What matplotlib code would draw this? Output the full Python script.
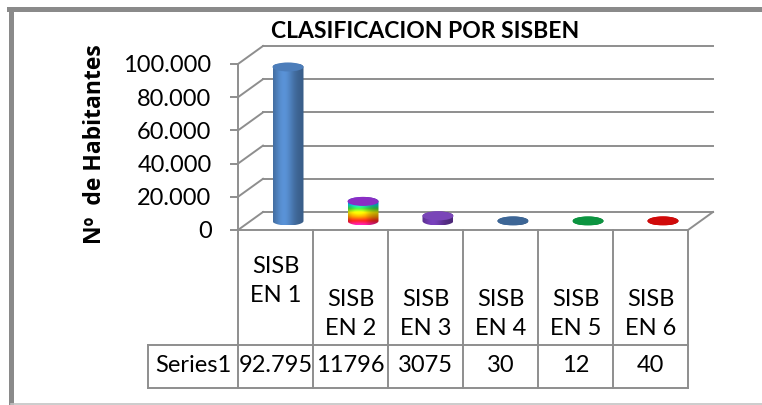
import numpy as np
import matplotlib
matplotlib.use("Agg")
import matplotlib.pyplot as plt
from matplotlib.patches import Ellipse, Polygon
from matplotlib.lines import Line2D
from matplotlib.colors import LinearSegmentedColormap, to_rgb
from matplotlib.ticker import FuncFormatter

plt.rcParams['font.family'] = ['Lato', 'DejaVu Sans']

# data
categories = ["SISB\nEN 1", "SISB\nEN 2", "SISB\nEN 3", "SISB\nEN 4", "SISB\nEN 5", "SISB\nEN 6"]
values = [92795, 11796, 3075, 30, 12, 40]
value_labels = ["92.795", "11796", "3075", "30", "12", "40"]
series_name = "Series1"
yticks = [0, 20000, 40000, 60000, 80000, 100000]

title = "CLASIFICACION POR SISBEN"
ylabel = "Nº  de Habitantes"

# colours (body, top) per bar; bar 2 uses a rainbow fill
body_cols = ['#4F81BD', None, '#6A38A6', '#3D6696', '#0C9440', '#D00A0A']
top_cols = ['#4C7DBA', '#8A2EC4', '#7A46B8', '#3D6696', '#0C9440', '#D00A0A']
rainbow = LinearSegmentedColormap.from_list(
    'rb', ['#FF20B0', '#FF2020', '#FF9A00', '#FFF000', '#40E040',
           '#00D0F0', '#2040FF', '#8020C0'])

grid_c = '#8e8e8e'
fs = 17
W, H = 762, 405
fig = plt.figure(figsize=(W / 100, H / 100), dpi=100)
ax = fig.add_axes([238 / W, 1 - 230 / H, 450 / W, 166 / H])
ax.set_xlim(-0.5, 5.5)
ax.set_ylim(0, 100000)

# 3d depth offset (pixels -> data units)
px_x = 450 / 6
px_y = 166 / 100000
dx = 25 / px_x
dy = 18 / px_y

for s in ['top', 'right', 'bottom']:
    ax.spines[s].set_visible(False)
ax.spines['left'].set_color(grid_c)
ax.spines['left'].set_linewidth(1.4)
ax.set_xticks([])
ax.set_yticks(yticks)
ax.yaxis.set_major_formatter(FuncFormatter(lambda v, p: f"{int(v):,}".replace(",", ".")))
ax.tick_params(axis='y', length=6, width=1.4, color=grid_c, labelsize=fs, pad=13)
ax.patch.set_visible(False)

# back wall + left wall
x0, x1 = -0.5, 5.5
for v in yticks:
    ax.plot([x0 + dx, x1 + dx], [v + dy, v + dy], color=grid_c, lw=1.4, clip_on=False, zorder=1)
    ax.plot([x0, x0 + dx], [v, v + dy], color=grid_c, lw=1.4, clip_on=False, zorder=1)
# floor right edge
ax.plot([x1, x1 + dx], [0, dy], color=grid_c, lw=1.4, clip_on=False, zorder=1)


def cylinder(i, val):
    xc = i + dx / 2
    base = dy / 2
    top = base + val
    w = 31 / px_x
    eh = 9 / px_y
    a = np.linspace(np.pi, 2 * np.pi, 60)
    b = np.linspace(0, np.pi, 60)
    xs = np.concatenate([xc + w / 2 * np.cos(a), xc + w / 2 * np.cos(b)])
    ys = np.concatenate([base + eh / 2 * np.sin(a), top + eh / 2 * np.sin(b)])
    sil = Polygon(np.column_stack([xs, ys]), closed=True, facecolor='none',
                  edgecolor='none', clip_on=False)
    ax.add_patch(sil)
    nx, ny = 60, 80
    t = np.linspace(0, 1, nx)
    shade = 0.72 + 0.42 * np.exp(-((t - 0.35) / 0.33) ** 2)
    if body_cols[i] is None:
        rows = rainbow(np.linspace(0, 1, ny))[:, :3]
    else:
        rows = np.tile(np.array(to_rgb(body_cols[i])), (ny, 1))
    img = np.clip(rows[:, None, :] * shade[None, :, None], 0, 1)
    im = ax.imshow(img, extent=[xc - w / 2, xc + w / 2, base - eh / 2, top + eh / 2],
                   origin='lower', aspect='auto', zorder=3, interpolation='bilinear')
    im.set_clip_path(sil)
    im.set_clip_on(True)
    ax.add_patch(Ellipse((xc, top), w, eh, facecolor=top_cols[i], edgecolor='none',
                         zorder=4, clip_on=False))


for i, v in enumerate(values):
    cylinder(i, v)
ax.set_xlim(-0.5, 5.5)
ax.set_ylim(0, 100000)

# data table under the chart
tr = ax.get_xaxis_transform()
row1 = -115 / 166
row2 = -158 / 166
left_cell = -0.5 - 90 / px_x
ax.plot([x0, x1], [0, 0], color=grid_c, lw=1.4, transform=tr, clip_on=False)
for k in range(7):
    ax.plot([x0 + k, x0 + k], [0, row2], color=grid_c, lw=1.4, transform=tr, clip_on=False)
for r in [row1, row2]:
    ax.plot([left_cell, x1], [r, r], color=grid_c, lw=1.4, transform=tr, clip_on=False)
ax.plot([left_cell, left_cell], [row1, row2], color=grid_c, lw=1.4, transform=tr, clip_on=False)

for i, c in enumerate(categories):
    yy = -51 / 166 if i == 0 else -84 / 166
    ax.text(i, yy, c, transform=tr, ha='center', va='center', fontsize=fs,
            linespacing=1.5)
for i, s in enumerate(value_labels):
    ax.text(i, -136 / 166, s, transform=tr, ha='center', va='center', fontsize=fs)
ax.text((left_cell + x0) / 2, -136 / 166, series_name, transform=tr, ha='center',
        va='center', fontsize=fs)

fig.text(425 / W, 1 - 32 / H, title, ha='center', va='center', fontsize=16.5,
         fontweight='bold')
fig.text(95 / W, 1 - 144 / H, ylabel, ha='center', va='center', rotation=90,
         fontsize=16.5, fontweight='bold', family=['Open Sans', 'DejaVu Sans'])

# chart frame
fig.add_artist(Line2D([11 / W, 11 / W], [1 - 9 / H, 1 - 404 / H], color='#8a8a8a', lw=3.6))
fig.add_artist(Line2D([9 / W, 1], [1 - 9 / H, 1 - 9 / H], color='#8a8a8a', lw=3.6))
fig.add_artist(Line2D([11 / W, 1], [1 - 404 / H, 1 - 404 / H], color='#c4c4c4', lw=1.2))

fig.savefig("out.png", dpi=100)
